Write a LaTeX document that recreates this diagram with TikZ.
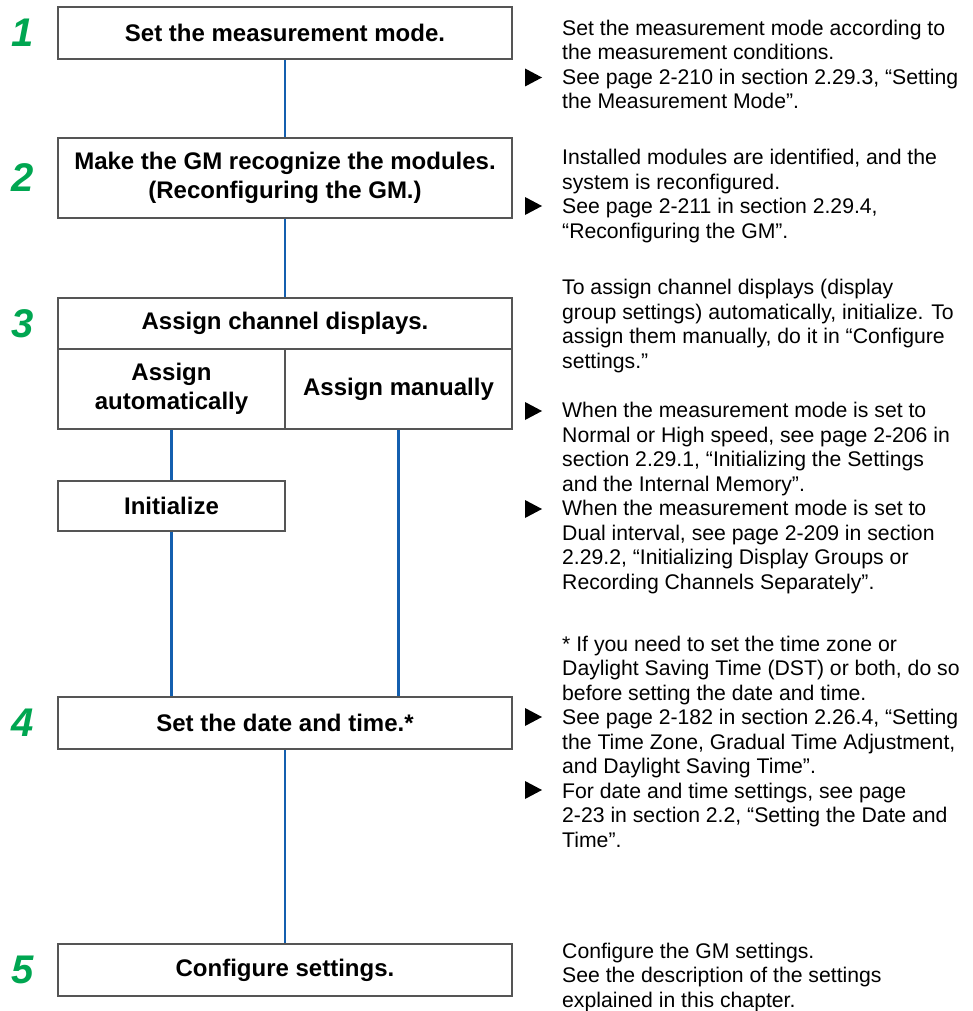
\documentclass[tikz,border=0pt]{standalone}
\usepackage{fontspec}
\setmainfont{Liberation Sans}
\usetikzlibrary{positioning}
\definecolor{stepgreen}{RGB}{0,166,81}
\definecolor{flowblue}{RGB}{20,95,175}
\definecolor{framegray}{RGB}{85,85,85}
\tikzset{
    stepbox/.style={draw=framegray, line width=1.1pt, rectangle, minimum width=454pt, minimum height=52pt, align=center, inner sep=2pt, font=\fontsize{24}{28.5}\selectfont\bfseries},
    halfbox/.style={stepbox, minimum width=227pt},
    num/.style={inner sep=0pt, text=stepgreen, font=\fontsize{40}{40}\selectfont\bfseries\itshape},
    note/.style={anchor=base west, inner sep=0pt, align=left, font=\fontsize{21.2}{24.5}\selectfont},
    link/.style={draw=flowblue, line width=2.2pt}
}

\begin{document}
\begin{tikzpicture}[x=1pt, y=-1pt]
\useasboundingbox (0,0) rectangle (972,1011);
% flow boxes
\node[stepbox] (measmode) at (285,33) {Set the measurement mode.};
\node[stepbox, minimum height=80pt] (recog) at (285,178) {Make the GM recognize the modules.\\(Reconfiguring the GM.)};
\node[stepbox, minimum height=51pt] (assign) at (285,323.5) {Assign channel displays.};
\node[halfbox, minimum height=80pt] (auto) at (171.5,389) {Assign\\automatically};
\node[halfbox, minimum height=80pt] (manual) at (398.5,389) {Assign manually};
\node[halfbox, minimum height=50pt] (init) at (171.5,506) {Initialize};
\node[stepbox] (datetime) at (285,723) {Set the date and time.*};
\node[stepbox] (config) at (285,970) {Configure settings.};
% step numbers
\node[num, left=24pt of measmode] (n1) {1};
\node[num, left=24pt of recog] (n2) {2};
\node[num, left=24pt of assign] (n3) {3};
\node[num, left=24pt of datetime] (n4) {4};
\node[num, left=24pt of config] (n5) {5};
% connectors
\draw[link] (measmode) -- (recog);
\draw[link] (recog) -- (assign);
\draw[link] (auto) -- (init);
\draw[link] (init.south) -- (init.south |- datetime.north);
\draw[link] (manual.south) -- (manual.south |- datetime.north);
\draw[link] (datetime) -- (config);
% notes on the right (placed by the baseline of their last line)
\node[note] (note1) at (562,109) {Set the measurement mode according to\\the measurement conditions.\\See page 2-210 in section 2.29.3, “Setting\\the Measurement Mode”.};
\node[note] (note2) at (562,238) {Installed modules are identified, and the\\system is reconfigured.\\See page 2-211 in section 2.29.4,\\“Reconfiguring the GM”.};
\node[note] (note3) at (562,368) {To assign channel displays (display\\group settings) automatically, initialize. To\\assign them manually, do it in “Configure\\settings.”};
\node[note] (note3b) at (562,589) {When the measurement mode is set to\\Normal or High speed, see page 2-206 in\\section 2.29.1, “Initializing the Settings\\and the Internal Memory”.\\When the measurement mode is set to\\Dual interval, see page 2-209 in section\\2.29.2, “Initializing Display Groups or\\Recording Channels Separately”.};
\node[note] (note4) at (562,847) {* If you need to set the time zone or\\Daylight Saving Time (DST) or both, do so\\before setting the date and time.\\See page 2-182 in section 2.26.4, “Setting\\the Time Zone, Gradual Time Adjustment,\\and Daylight Saving Time”.\\For date and time settings, see page\\2-23 in section 2.2, “Setting the Date and\\Time”.};
\node[note] (note5) at (562,1007) {Configure the GM settings.\\See the description of the settings\\explained in this chapter.};
% reference markers
\foreach \ty in {77.5,206,411,509,717,790}
  \fill (525,\ty-9) -- (542,\ty) -- (525,\ty+9) -- cycle;
\end{tikzpicture}
\end{document}
